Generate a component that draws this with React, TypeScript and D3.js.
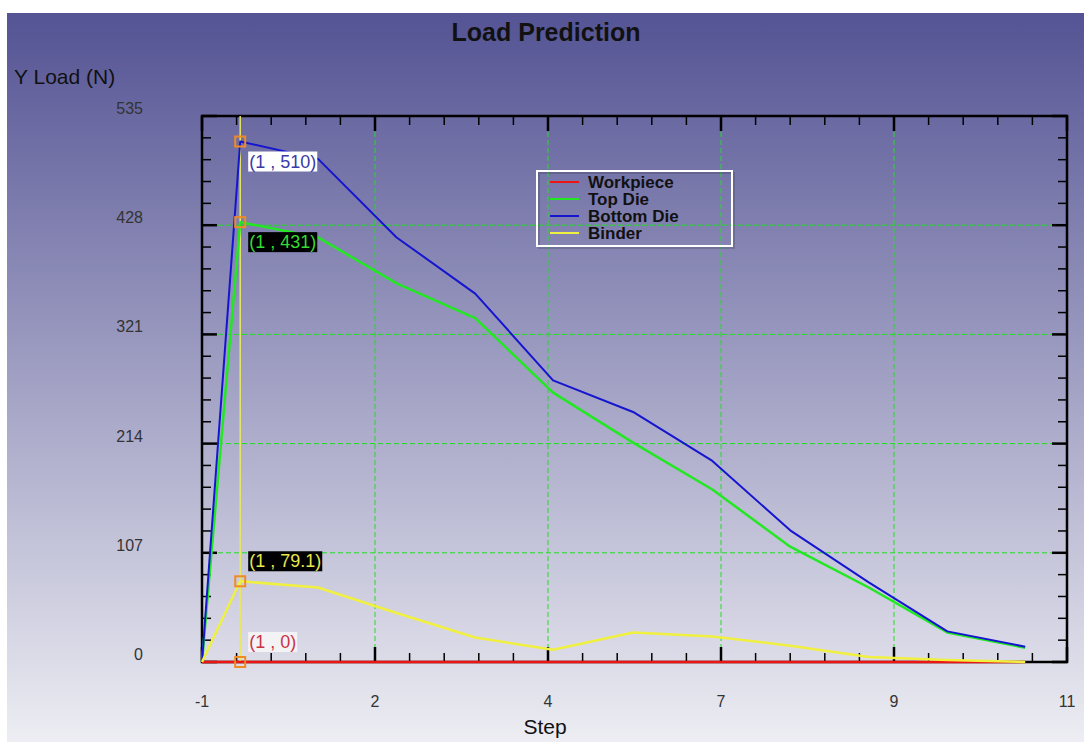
import { useEffect, useRef } from "react";
import * as d3 from "d3";

// step positions (axis units) and loads (N)
const steps = [-1, -0.47, 0.61, 1.7, 2.79, 3.87, 4.98, 6.08, 7.16, 8.25, 9.34, 10.42];
const workpiece = [0, 0, 0, 0, 0, 0, 0, 0, 0, 0, 0, 0];
const topDie = [0, 431, 416, 371, 337, 264, 215, 169, 113, 73, 29, 14];
const bottomDie = [0, 510, 493, 416, 361, 276, 245, 197, 129, 78, 30, 15];
const binder = [0, 79.1, 73, 48, 24, 12, 29, 25, 16, 5, 2, 0];

const yTicks = [0, 107, 214, 321, 428, 535];
const xTickLabels = ["-1", "2", "4", "7", "9", "11"];

const seriesNames = ["Workpiece", "Top Die", "Bottom Die", "Binder"];
const seriesColors = ["#ee1515", "#22e822", "#1515d0", "#f0f040"];

const cursorIndex = 1;
const annotations = [
  { label: "(1 , 510)", value: 510, bg: "#ffffff", fg: "#3a3aa8", dy: 10 },
  { label: "(1 , 431)", value: 431, bg: "#000000", fg: "#33dd33", dy: 10 },
  { label: "(1 , 79.1)", value: 79.1, bg: "#000000", fg: "#e8e850", dy: -30 },
  { label: "(1 , 0)", value: 0, bg: "#f3f3f6", fg: "#cc3344", dy: -30 },
];

const W = 1084;
const H = 742;
const margin = { top: 116, left: 202, right: 17, bottom: 80 };

const App = () => {
  const svgRef = useRef<SVGSVGElement>(null);

  useEffect(() => {
    document.body.style.margin = "0";
    const svg = d3.select(svgRef.current);
    svg.selectAll("*").remove();

    const x0 = margin.left;
    const x1 = W - margin.right;
    const y0 = margin.top;
    const y1 = 662;

    const x = d3.scaleLinear().domain([-1, 11]).range([x0, x1]);
    const y = d3.scaleLinear().domain([0, 535]).range([y1, y0]);

    const defs = svg.append("defs");
    const grad = defs.append("linearGradient")
      .attr("id", "bg")
      .attr("x1", 0).attr("y1", 0).attr("x2", 0).attr("y2", 1);
    grad.append("stop").attr("offset", "0%").attr("stop-color", "rgb(84,83,148)");
    grad.append("stop").attr("offset", "100%").attr("stop-color", "rgb(237,237,243)");

    svg.append("rect").attr("width", W).attr("height", H).attr("fill", "#ffffff");
    svg.append("rect")
      .attr("x", 7).attr("y", 13)
      .attr("width", W - 7).attr("height", H - 13)
      .attr("fill", "url(#bg)");

    const font = "'Liberation Sans', Arial, sans-serif";

    // title and axis titles
    svg.append("text")
      .attr("x", 546).attr("y", 41)
      .attr("text-anchor", "middle")
      .attr("font-family", font).attr("font-size", 25).attr("font-weight", "bold")
      .attr("fill", "#111")
      .text("Load Prediction");
    svg.append("text")
      .attr("x", 14).attr("y", 84)
      .attr("font-family", font).attr("font-size", 21)
      .attr("fill", "#111")
      .text("Y Load (N)");
    svg.append("text")
      .attr("x", 545).attr("y", 734)
      .attr("text-anchor", "middle")
      .attr("font-family", font).attr("font-size", 21)
      .attr("fill", "#111")
      .text("Step");

    const xMajor = d3.range(xTickLabels.length).map(i => -1 + (i * 12) / (xTickLabels.length - 1));
    const xMinor = d3.range(0, 26).map(i => -1 + i * 0.48).filter((_, i) => i % 5 !== 0);
    const yMinor = d3.range(0, 26).map(i => i * 21.4).filter((_, i) => i % 5 !== 0);

    // grid
    const grid = svg.append("g")
      .attr("stroke", "#22dd22").attr("stroke-width", 1).attr("stroke-dasharray", "5,3");
    grid.selectAll(".gx").data(xMajor.slice(1, -1)).join("line")
      .attr("x1", d => x(d)).attr("x2", d => x(d)).attr("y1", y0).attr("y2", y1);
    grid.selectAll(".gy").data(yTicks.slice(1, -1)).join("line")
      .attr("y1", d => y(d)).attr("y2", d => y(d)).attr("x1", x0).attr("x2", x1);

    // tick labels
    svg.append("g").selectAll("text").data(yTicks).join("text")
      .attr("x", 143).attr("y", d => y(d) - 2)
      .attr("text-anchor", "end")
      .attr("font-family", font).attr("font-size", 16)
      .attr("fill", "#333")
      .text(d => d);
    svg.append("g").selectAll("text").data(xMajor).join("text")
      .attr("x", d => x(d)).attr("y", 707)
      .attr("text-anchor", "middle")
      .attr("font-family", font).attr("font-size", 16)
      .attr("fill", "#333")
      .text((_, i) => xTickLabels[i]);

    // ticks on all four sides
    const ticks = svg.append("g").attr("stroke", "#000");
    const drawX = (vals: number[], len: number, w: number) => {
      ticks.append("g").attr("stroke-width", w).selectAll("line").data(vals).join("line")
        .attr("x1", d => x(d)).attr("x2", d => x(d)).attr("y1", y1).attr("y2", y1 - len);
      ticks.append("g").attr("stroke-width", w).selectAll("line").data(vals).join("line")
        .attr("x1", d => x(d)).attr("x2", d => x(d)).attr("y1", y0).attr("y2", y0 + len);
    };
    const drawY = (vals: number[], len: number, w: number) => {
      ticks.append("g").attr("stroke-width", w).selectAll("line").data(vals).join("line")
        .attr("y1", d => y(d)).attr("y2", d => y(d)).attr("x1", x0).attr("x2", x0 + len);
      ticks.append("g").attr("stroke-width", w).selectAll("line").data(vals).join("line")
        .attr("y1", d => y(d)).attr("y2", d => y(d)).attr("x1", x1).attr("x2", x1 - len);
    };
    drawX(xMajor, 15, 2.5);
    drawX(xMinor, 9, 1.5);
    drawY(yTicks, 15, 2.5);
    drawY(yMinor, 9, 1.5);

    svg.append("rect")
      .attr("x", x0).attr("y", y0)
      .attr("width", x1 - x0).attr("height", y1 - y0)
      .attr("fill", "none").attr("stroke", "#000").attr("stroke-width", 2.5);

    // cursor line
    svg.append("line")
      .attr("x1", x(steps[cursorIndex])).attr("x2", x(steps[cursorIndex]))
      .attr("y1", y0).attr("y2", y1)
      .attr("stroke", "#e8e860").attr("stroke-width", 1.5);

    // series lines
    const allSeries = [workpiece, topDie, bottomDie, binder];
    const line = d3.line<number>()
      .x((_, i) => x(steps[i]))
      .y(d => y(d));
    const order = [0, 1, 2, 3];
    svg.append("g").selectAll("path").data(order).join("path")
      .attr("d", i => line(allSeries[i]))
      .attr("fill", "none")
      .attr("stroke", i => seriesColors[i])
      .attr("stroke-width", i => (i === 2 ? 2 : 2.5))
      .attr("stroke-linejoin", "round");

    // cursor markers and value labels
    const ann = svg.append("g");
    annotations.forEach(a => {
      const cx = x(steps[cursorIndex]);
      const cy = y(a.value);
      ann.append("rect")
        .attr("x", cx - 5).attr("y", cy - 5)
        .attr("width", 10).attr("height", 10)
        .attr("fill", "none").attr("stroke", "#f08a24").attr("stroke-width", 2);
      const g = ann.append("g");
      const bg = g.append("rect").attr("fill", a.bg);
      const t = g.append("text")
        .attr("x", cx + 9).attr("y", cy + a.dy + 16)
        .attr("font-family", font).attr("font-size", 18)
        .attr("fill", a.fg)
        .text(a.label);
      const bb = (t.node() as SVGTextElement).getBBox();
      bg.attr("x", bb.x - 1).attr("y", cy + a.dy).attr("width", bb.width + 2).attr("height", 20);
    });

    // legend
    const lg = svg.append("g").attr("transform", "translate(537,171)");
    lg.append("rect")
      .attr("x", 2).attr("y", 2).attr("width", 195).attr("height", 75)
      .attr("fill", "none").attr("stroke", "rgba(0,0,0,0.15)").attr("stroke-width", 2);
    lg.append("rect")
      .attr("width", 195).attr("height", 75)
      .attr("fill", "none").attr("stroke", "#ffffff").attr("stroke-width", 2);
    const rows = lg.selectAll("g.row").data(seriesNames).join("g")
      .attr("transform", (_, i) => `translate(0,${11 + i * 17})`);
    rows.append("line")
      .attr("x1", 13).attr("x2", 42)
      .attr("stroke", (_, i) => seriesColors[i]).attr("stroke-width", 2);
    rows.append("text")
      .attr("x", 51).attr("y", 6)
      .attr("font-family", font).attr("font-size", 17).attr("font-weight", "bold")
      .attr("fill", "#111")
      .text(d => d);
  }, []);

  return <svg ref={svgRef} width={W} height={H} style={{ display: "block" }}></svg>;
};

export default App;
